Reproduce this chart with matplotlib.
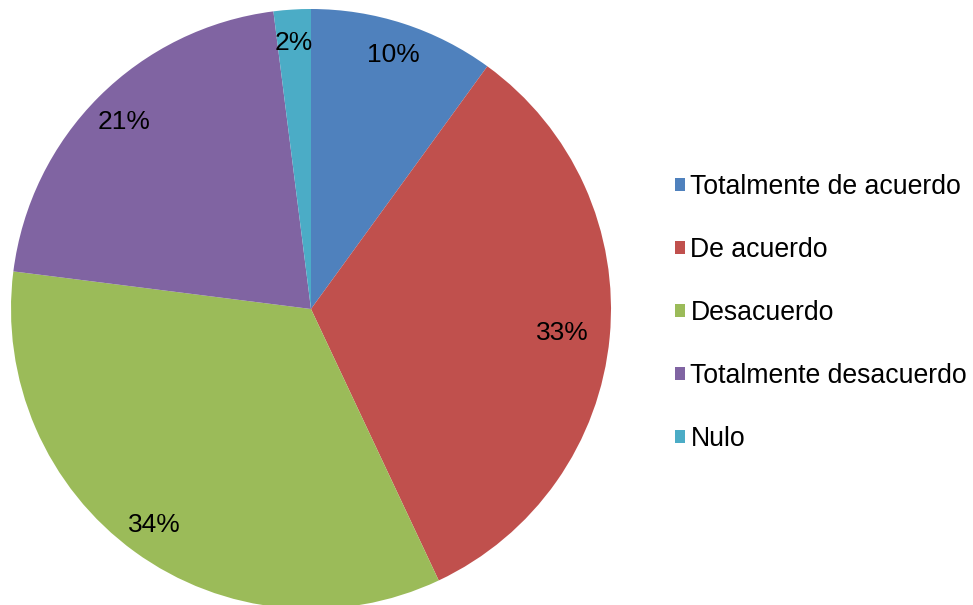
import numpy as np
import matplotlib
matplotlib.use('Agg')
import matplotlib.pyplot as plt
from matplotlib.patches import Patch

plt.rcParams['font.family'] = ['Liberation Sans', 'DejaVu Sans']

# data
labels = ['Totalmente de acuerdo', 'De acuerdo', 'Desacuerdo',
          'Totalmente desacuerdo', 'Nulo']
values = [10, 33, 34, 21, 2]
colors = ['#4f81bd', '#c0504d', '#9bbb59', '#8064a2', '#4bacc6']
label_dist = [0.89, 0.84, 0.89, 0.88, 0.89]

fig = plt.figure(figsize=(9.73, 6.05), dpi=100)
W, H = 973, 605
cx, cy, r = 311, 309, 300
ax = fig.add_axes([(cx - r) / W, (H - cy - r) / H, 2 * r / W, 2 * r / H])

wedges, _ = ax.pie(values, colors=colors, startangle=90, counterclock=False,
                   radius=1, wedgeprops=dict(linewidth=0))

# percentage labels placed at each wedge's mid angle
total = float(sum(values))
for w, v, d in zip(wedges, values, label_dist):
    ang = np.deg2rad((w.theta1 + w.theta2) / 2)
    ax.text(d * np.cos(ang), d * np.sin(ang), '%d%%' % round(100 * v / total),
            ha='center', va='center', fontsize=19, color='black')

ax.set_xlim(-1, 1)
ax.set_ylim(-1, 1)
ax.set_aspect('equal')
ax.axis('off')

handles = [Patch(facecolor=c, edgecolor='none') for c in colors]
fig.legend(handles, labels, loc='center left',
           bbox_to_anchor=(664 / W, 1 - 313 / H), frameon=False,
           fontsize=19.2, handlelength=0.39, handleheight=0.39,
           handletextpad=0.2, labelspacing=1.39, borderaxespad=0)

fig.savefig('out.png', dpi=100)
